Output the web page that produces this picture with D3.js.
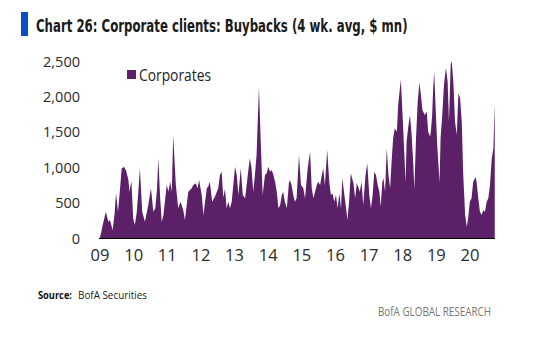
<!DOCTYPE html>
<html>
<head>
<meta charset="utf-8">
<script src="https://cdn.jsdelivr.net/npm/d3@7"></script>
<style>
  html, body { margin: 0; padding: 0; background: #fff; }
  svg { display: block; }
</style>
</head>
<body>
<svg id="chart" width="550" height="342"></svg>
<script>
// ---- data (weekly 4wk avg buybacks, $mn) ----
const years = [
  2009.00,2009.04,2009.10,2009.19,2009.26,2009.31,2009.39,2009.45,2009.49,2009.55,
  2009.61,2009.66,2009.73,2009.79,2009.86,2009.89,2009.95,2010.00,2010.05,2010.11,
  2010.16,2010.20,2010.27,2010.35,2010.45,2010.53,2010.60,2010.66,2010.71,2010.75,
  2010.80,2010.85,2010.90,2011.00,2011.05,2011.10,2011.15,2011.19,2011.27,2011.34,
  2011.41,2011.49,2011.54,2011.64,2011.74,2011.79,2011.86,2011.92,2011.96,2012.04,
  2012.09,2012.19,2012.23,2012.28,2012.35,2012.43,2012.53,2012.58,2012.63,2012.68,
  2012.73,2012.78,2012.83,2012.88,2012.93,2013.03,2013.08,2013.13,2013.20,2013.26,
  2013.33,2013.42,2013.47,2013.52,2013.57,2013.62,2013.67,2013.74,2013.79,2013.85,
  2013.92,2013.97,2014.02,2014.07,2014.12,2014.17,2014.22,2014.27,2014.32,2014.37,
  2014.42,2014.46,2014.51,2014.57,2014.63,2014.66,2014.71,2014.76,2014.81,2014.86,
  2014.93,2014.99,2015.06,2015.11,2015.19,2015.26,2015.31,2015.36,2015.41,2015.46,
  2015.50,2015.56,2015.61,2015.65,2015.70,2015.77,2015.83,2015.88,2015.93,2015.98,
  2016.03,2016.08,2016.13,2016.18,2016.22,2016.28,2016.33,2016.37,2016.42,2016.47,
  2016.51,2016.55,2016.60,2016.65,2016.69,2016.74,2016.79,2016.84,2016.91,2016.96,
  2017.02,2017.07,2017.12,2017.17,2017.22,2017.27,2017.32,2017.36,2017.41,2017.44,
  2017.49,2017.54,2017.59,2017.64,2017.69,2017.73,2017.78,2017.84,2017.88,2017.93,
  2017.96,2018.01,2018.06,2018.10,2018.13,2018.18,2018.23,2018.28,2018.33,2018.36,
  2018.41,2018.46,2018.51,2018.55,2018.60,2018.67,2018.73,2018.77,2018.83,2018.85,
  2018.89,2018.92,2018.95,2018.99,2019.04,2019.11,2019.14,2019.19,2019.24,2019.30,
  2019.35,2019.39,2019.44,2019.47,2019.52,2019.57,2019.62,2019.67,2019.72,2019.77,
  2019.81,2019.87,2019.92,2019.96,2020.01,2020.06,2020.11,2020.18,2020.21,2020.26,
  2020.31,2020.36,2020.41,2020.46,2020.51,2020.56,2020.61,2020.66,2020.71,2020.75
];
const corporates = [
  0,60,200,378,237,262,120,350,638,378,
  700,991,1010,960,826,661,812,290,190,378,
  700,991,378,237,473,709,378,430,700,1132,
  600,237,330,755,660,800,660,1461,755,426,
  520,400,261,661,709,755,779,709,826,614,
  332,709,732,800,520,590,709,897,943,580,
  700,426,520,426,520,1014,897,614,991,614,
  567,943,1132,991,661,897,1180,2143,1415,614,
  897,920,1014,943,967,897,802,661,426,473,
  614,661,520,426,780,826,755,614,520,567,
  1179,755,709,567,991,1226,709,567,661,755,
  802,755,897,991,755,1250,802,614,637,520,
  614,426,637,426,850,614,426,261,520,920,
  850,779,567,779,732,661,802,473,897,1062,
  614,426,614,943,897,755,661,449,802,850,
  661,1273,897,709,1132,1415,1556,1508,1885,2121,
  2238,1744,1226,790,1367,1579,1744,1461,1038,700,
  1415,1932,2200,2050,1814,1744,1790,1508,1437,1508,
  1744,2121,2355,1885,1320,790,1415,1744,2168,2410,
  2215,1649,2450,2510,2215,1649,1461,2050,1980,1649,
  943,332,167,285,520,567,802,870,802,567,
  378,332,400,378,520,567,755,1120,1273,1909
];
const seriesName = "Corporates";
const yTickValues = [0, 500, 1000, 1500, 2000, 2500];
const xTickYears = [2009, 2010, 2011, 2012, 2013, 2014, 2015, 2016, 2017, 2018, 2019, 2020];
const titleText = "Chart 26: Corporate clients: Buybacks (4 wk. avg, $ mn)";
const sourceLabel = "Source:";
const sourceText = "BofA Securities";
const brandText = "BofA GLOBAL RESEARCH";

// ---- drawing ----
const svg = d3.select("#chart");
const purple = "#5c2068";
const plot = { left: 99.5, right: 495, top: 61.5, bottom: 238.5 };

const x = d3.scaleLinear().domain([2009, 2020]).range([99.5, 469.5]);
const y = d3.scaleLinear().domain([0, 2500]).range([plot.bottom, plot.top]);

const data = years.map((t, i) => ({ t, v: corporates[i] }));

// title bar + title (narrowed by a horizontal scale to the reference width)
svg.append("rect").attr("x", 21).attr("y", 12).attr("width", 7).attr("height", 24).attr("fill", "#0b50c2");
const titleG = svg.append("g");
const title = titleG.append("text")
  .attr("x", 0).attr("y", 0)
  .attr("font-family", "'Liberation Sans Narrow','DejaVu Sans Condensed','Roboto Condensed','Open Sans',sans-serif")
  .attr("font-weight", "bold").attr("font-size", 18.5).attr("fill", "#1a1a1a")
  .text(titleText);
const tw = title.node().getComputedTextLength();
const sx = Math.min(1, 372 / tw);
titleG.attr("transform", `translate(36,31.5) scale(${sx},1)`);

// area
const area = d3.area().x(d => x(d.t)).y0(y(0)).y1(d => y(d.v)).curve(d3.curveLinear);
svg.append("path").datum(data).attr("d", area).attr("fill", purple);

// baseline
svg.append("line").attr("x1", 99).attr("x2", 495).attr("y1", plot.bottom).attr("y2", plot.bottom)
  .attr("stroke", "#000").attr("stroke-width", 1.2);

// y axis
const yAxis = svg.append("g").attr("transform", "translate(80,0)")
  .call(d3.axisLeft(y).tickValues(yTickValues).tickSize(0).tickPadding(0).tickFormat(d3.format(",")));
yAxis.select(".domain").remove();
yAxis.selectAll("text").attr("font-family", "'Open Sans',sans-serif").attr("font-size", 14.5).attr("fill", "#2a2a2a");

// x axis
const xAxis = svg.append("g").attr("transform", `translate(0,${plot.bottom})`)
  .call(d3.axisBottom(x).tickValues(xTickYears).tickSize(0).tickPadding(11)
    .tickFormat(d => String(d % 100).padStart(2, "0")));
xAxis.select(".domain").remove();
xAxis.selectAll("text").attr("font-family", "'Open Sans',sans-serif").attr("font-size", 16.5).attr("fill", "#2a2a2a");

// legend
svg.append("rect").attr("x", 127).attr("y", 70).attr("width", 9).attr("height", 9).attr("fill", purple);
svg.append("text").attr("x", 139).attr("y", 80.5)
  .attr("font-family", "'Open Sans',sans-serif").attr("font-size", 16).attr("fill", "#222")
  .attr("textLength", 72).attr("lengthAdjust", "spacingAndGlyphs")
  .text(seriesName);

// source
svg.append("text").attr("x", 38).attr("y", 298.5)
  .attr("font-family", "'Open Sans',sans-serif").attr("font-weight", "bold").attr("font-size", 10.5).attr("fill", "#111")
  .attr("textLength", 34).attr("lengthAdjust", "spacingAndGlyphs")
  .text(sourceLabel);
svg.append("text").attr("x", 78).attr("y", 298.5)
  .attr("font-family", "'Open Sans',sans-serif").attr("font-size", 11).attr("fill", "#222")
  .attr("textLength", 69).attr("lengthAdjust", "spacingAndGlyphs")
  .text(sourceText);
svg.append("text").attr("x", 378).attr("y", 316)
  .attr("font-family", "'Open Sans',sans-serif").attr("font-size", 12).attr("fill", "#777")
  .attr("textLength", 113).attr("lengthAdjust", "spacingAndGlyphs")
  .text(brandText);
</script>
</body>
</html>
